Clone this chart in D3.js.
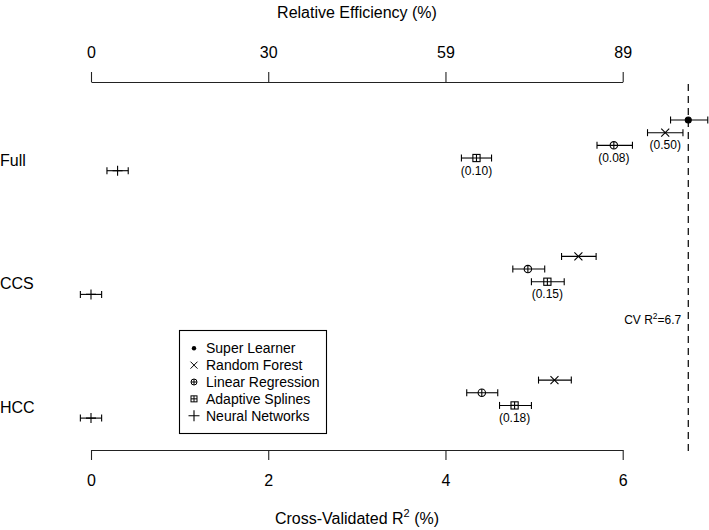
<!DOCTYPE html>
<html><head><meta charset="utf-8">
<script src="https://cdn.jsdelivr.net/npm/d3@7"></script>
<style>
html,body{margin:0;padding:0;background:#fff;}
svg{display:block;font-family:"Liberation Sans",Arial,Helvetica,sans-serif;}
</style></head>
<body>
<svg id="chart" width="709" height="530"></svg>
<script>
// ---- data ----
const groups = ["Full", "CCS", "HCC"];
const models = ["Super Learner", "Random Forest", "Linear Regression", "Adaptive Splines", "Neural Networks"];
const shapes = ["dot", "cross", "circleplus", "squareplus", "plus"];
// estimates of cross-validated R2 (%) per group, model order as above (null = not shown)
const fullEst  = [6.74, 6.48, 5.90, 4.35, 0.30];
const fullLo   = [6.54, 6.28, 5.71, 4.18, 0.18];
const fullHi   = [6.96, 6.68, 6.11, 4.52, 0.42];
const ccsEst   = [null, 5.50, 4.93, 5.15, 0.00];
const ccsLo    = [null, 5.31, 4.76, 4.97, -0.12];
const ccsHi    = [null, 5.70, 5.12, 5.34, 0.12];
const hccEst   = [null, 5.23, 4.41, 4.78, 0.00];
const hccLo    = [null, 5.05, 4.24, 4.61, -0.12];
const hccHi    = [null, 5.42, 4.59, 4.97, 0.12];
// p-value annotations: [group, modelIndex, text]
const annotations = [["Full", 1, "(0.50)"], ["Full", 2, "(0.08)"], ["Full", 3, "(0.10)"], ["CCS", 3, "(0.15)"], ["HCC", 3, "(0.18)"]];
const cvR2 = 6.74;
const cvLabel = "6.7";
const bottomTicks = [0, 2, 4, 6];
const topTickLabels = ["0", "30", "59", "89"];

const estTable = {Full: [fullEst, fullLo, fullHi], CCS: [ccsEst, ccsLo, ccsHi], HCC: [hccEst, hccLo, hccHi]};
const points = [];
groups.forEach(g => {
  const [e, lo, hi] = estTable[g];
  e.forEach((v, i) => { if (v !== null) points.push({group: g, m: i, est: v, lo: lo[i], hi: hi[i]}); });
});

// ---- scales ----
const svg = d3.select("#chart");
const x = d3.scaleLinear().domain([0, 6]).range([91, 622.7]);
const yGroup = d3.scalePoint().domain(groups).range([120, 367.4]);
const yModel = d3.scaleLinear().domain([0, 4]).range([0, 50.7]);
const yPos = (g, m) => yGroup(g) + yModel(m);

// ---- symbols ----
function drawSymbol(sel, shape, cx, cy) {
  const g = sel.append("g").attr("transform", `translate(${cx},${cy})`)
    .attr("fill", "none").attr("stroke", "#000").attr("stroke-width", 1.1);
  if (shape === "dot") {
    g.append("circle").attr("r", 3).attr("fill", "#000");
  } else if (shape === "cross") {
    g.append("path").attr("d", "M-4,-4L4,4M-4,4L4,-4");
  } else if (shape === "circleplus") {
    g.append("circle").attr("r", 3.7).attr("fill", "#fff");
    g.append("path").attr("d", "M-3.7,0H3.7M0,-3.7V3.7");
  } else if (shape === "squareplus") {
    g.append("rect").attr("x", -3.6).attr("y", -3.6).attr("width", 7.2).attr("height", 7.2).attr("fill", "#fff");
    g.append("path").attr("d", "M-3.6,0H3.6M0,-3.6V3.6");
  } else if (shape === "plus") {
    g.append("path").attr("d", "M-5,0H5M0,-5V5");
  }
}

// ---- axes ----
const bottomAxis = d3.axisBottom(x).tickValues(bottomTicks).tickFormat(d3.format("d"))
  .tickSize(10).tickSizeOuter(0).tickPadding(15);
const gb = svg.append("g").attr("transform", "translate(0,450)").call(bottomAxis);
const topAxis = d3.axisTop(x).tickValues(bottomTicks).tickFormat((d, i) => topTickLabels[i])
  .tickSize(10).tickSizeOuter(0).tickPadding(14);
const gt = svg.append("g").attr("transform", "translate(0,82)").call(topAxis);
[gb, gt].forEach(g => {
  g.selectAll("text").attr("font-size", 16).attr("fill", "#000").attr("font-family", "Liberation Sans, Arial, sans-serif");
  g.selectAll("line,path").attr("stroke", "#222").attr("stroke-width", 1.1);
});

svg.append("text").attr("x", 357).attr("y", 18).attr("text-anchor", "middle")
  .attr("font-size", 16).text("Relative Efficiency (%)");
const xt = svg.append("text").attr("x", 357).attr("y", 524).attr("text-anchor", "middle").attr("font-size", 16);
xt.append("tspan").text("Cross-Validated R");
xt.append("tspan").attr("font-size", 11).attr("dy", -7).text("2");
xt.append("tspan").attr("dy", 7).text(" (%)");

// ---- group labels ----
svg.selectAll(".glab").data(groups).join("text").attr("class", "glab")
  .attr("x", 0).attr("y", g => yPos(g, 3) + 7.5).attr("font-size", 16).text(g => g);

// ---- CV reference line ----
svg.append("line").attr("x1", x(cvR2)).attr("x2", x(cvR2)).attr("y1", 84).attr("y2", 452)
  .attr("stroke", "#000").attr("stroke-width", 1.2).attr("stroke-dasharray", "7,5");
const cvt = svg.append("text").attr("x", x(cvR2) - 7).attr("y", 324).attr("text-anchor", "end").attr("font-size", 12);
cvt.append("tspan").text("CV R");
cvt.append("tspan").attr("font-size", 8.5).attr("dy", -5).text("2");
cvt.append("tspan").attr("dy", 5).text("=" + cvLabel);

// ---- error bars and points ----
const cap = 3.5;
const eb = svg.append("g").attr("stroke", "#000").attr("stroke-width", 1.1);
points.forEach(p => {
  const yy = yPos(p.group, p.m);
  eb.append("line").attr("x1", x(p.lo)).attr("x2", x(p.hi)).attr("y1", yy).attr("y2", yy);
  eb.append("line").attr("x1", x(p.lo)).attr("x2", x(p.lo)).attr("y1", yy - cap).attr("y2", yy + cap);
  eb.append("line").attr("x1", x(p.hi)).attr("x2", x(p.hi)).attr("y1", yy - cap).attr("y2", yy + cap);
});
points.forEach(p => drawSymbol(svg, shapes[p.m], x(p.est), yPos(p.group, p.m)));

// ---- annotations ----
annotations.forEach(([g, m, t]) => {
  const p = points.find(q => q.group === g && q.m === m);
  svg.append("text").attr("x", x(p.est)).attr("y", yPos(g, m) + 16.5)
    .attr("text-anchor", "middle").attr("font-size", 12).text(t);
});

// ---- legend ----
const lg = svg.append("g");
lg.append("rect").attr("x", 179.5).attr("y", 330.5).attr("width", 147).attr("height", 103)
  .attr("fill", "#fff").attr("stroke", "#000").attr("stroke-width", 1.1);
models.forEach((mname, i) => {
  const yy = 348.3 + i * 16.85;
  const s = lg.append("g");
  if (shapes[i] === "dot") {
    s.append("circle").attr("cx", 194).attr("cy", yy).attr("r", 2.2).attr("fill", "#000");
  } else if (shapes[i] === "cross") {
    s.append("path").attr("d", `M${190.5},${yy-3.5}L${197.5},${yy+3.5}M${190.5},${yy+3.5}L${197.5},${yy-3.5}`).attr("stroke", "#000");
  } else if (shapes[i] === "circleplus") {
    s.append("circle").attr("cx", 194).attr("cy", yy).attr("r", 3).attr("fill", "none").attr("stroke", "#000");
    s.append("path").attr("d", `M191,${yy}H197M194,${yy-3}V${yy+3}`).attr("stroke", "#000");
  } else if (shapes[i] === "squareplus") {
    s.append("rect").attr("x", 191).attr("y", yy - 3).attr("width", 6).attr("height", 6).attr("fill", "none").attr("stroke", "#000");
    s.append("path").attr("d", `M191,${yy}H197M194,${yy-3}V${yy+3}`).attr("stroke", "#000");
  } else {
    s.append("path").attr("d", `M188.5,${yy}H199.5M194,${yy-5.5}V${yy+5.5}`).attr("stroke", "#000").attr("stroke-width", 1.1);
  }
  lg.append("text").attr("x", 206).attr("y", yy + 5).attr("font-size", 14).text(mname);
});
</script>
</body></html>
